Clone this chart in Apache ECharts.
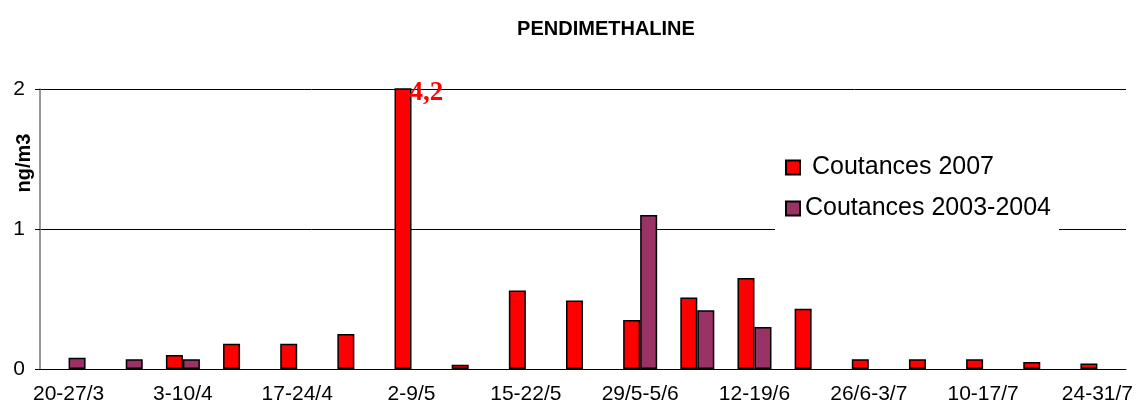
<!DOCTYPE html>
<html>
<head>
<meta charset="utf-8">
<script src="https://cdn.jsdelivr.net/npm/echarts@6/dist/echarts.min.js"></script>
<style>
  html, body { margin: 0; padding: 0; background: #fff; }
  #chart { width: 1138px; height: 408px; }
</style>
</head>
<body>
<div id="chart"></div>
<script>
// semaines de prélèvement
const weeks = [
  '20-27/3', '27/3-3/4', '3-10/4', '10-17/4', '17-24/4', '24/4-1/5', '2-9/5',
  '9-15/5', '15-22/5', '22-29/5', '29/5-5/6', '5-12/6', '12-19/6', '19-26/6',
  '26/6-3/7', '3-10/7', '10-17/7', '17-24/7', '24-31/7'
]
// concentrations ng/m3
const coutances2007 = [null, null, 0.10, 0.18, 0.18, 0.25, 4.2, 0.03, 0.56, 0.49,
  0.35, 0.51, 0.65, 0.43, 0.07, 0.07, 0.07, 0.05, 0.04]
const coutances2003 = [0.08, 0.07, 0.07, null, null, null, null, null, null, null,
  1.10, 0.42, 0.30, null, null, null, null, null, null]
const yTicks = [0, 1, 2]

const font = 'Liberation Sans, Arial, sans-serif'
const myChart = echarts.init(document.getElementById('chart'))

const options = {
  animation: false,
  backgroundColor: '#fff',
  title: {
    text: 'PENDIMETHALINE',
    left: 601,
    top: 14,
    textAlign: 'center',
    textStyle: { fontFamily: font, fontSize: 20, fontWeight: 'bold', color: '#000' }
  },
  graphic: [{
    type: 'text',
    x: 24,
    y: 163,
    rotation: Math.PI / 2,
    style: {
      text: 'ng/m3',
      font: 'bold 20px ' + font,
      fill: '#000',
      align: 'center',
      verticalAlign: 'middle'
    }
  }],
  legend: {
    orient: 'vertical',
    left: 775,
    top: 147,
    padding: [8, 8, 12, 10],
    itemGap: 16,
    itemWidth: 14,
    itemHeight: 14,
    backgroundColor: '#fff',
    formatter: name => name === 'Coutances 2007' ? ' ' + name : name,
    textStyle: { fontFamily: font, fontSize: 25, color: '#000' },
    data: [
      { name: 'Coutances 2007', icon: 'rect' },
      { name: 'Coutances 2003-2004', icon: 'rect' }
    ]
  },
  grid: { left: 40, right: 12, top: 89, bottom: 39 },
  xAxis: {
    type: 'category',
    data: weeks,
    axisLine: { lineStyle: { color: '#000', width: 1 } },
    axisTick: { interval: 0, length: 6, lineStyle: { color: '#555' } },
    axisLabel: {
      interval: 1,
      margin: 15,
      fontFamily: font,
      fontSize: 21,
      color: '#000'
    }
  },
  yAxis: {
    type: 'value',
    min: yTicks[0],
    max: yTicks[yTicks.length - 1],
    interval: 1,
    axisLine: { show: true, lineStyle: { color: '#777', width: 1.5 } },
    axisTick: { show: true, length: 5, lineStyle: { color: '#000' } },
    axisLabel: { margin: 15, fontFamily: font, fontSize: 21, color: '#000' },
    splitLine: { lineStyle: { color: '#000', width: 1 } }
  },
  series: [
    {
      name: 'Coutances 2007',
      type: 'bar',
      barWidth: 17,
      barGap: '0%',
      clip: true,
      itemStyle: { color: '#ff0000', borderColor: '#000', borderWidth: 1.5 },
      data: coutances2007.map((v, i) => i === 6 ? {
        value: v,
        label: {
          show: true,
          position: [15, -9],
          formatter: p => String(p.value).replace('.', ','),
          fontFamily: 'Liberation Serif, Times New Roman, serif',
          fontWeight: 'bold',
          fontSize: 27,
          color: '#ff0000'
        }
      } : v)
    },
    {
      name: 'Coutances 2003-2004',
      type: 'bar',
      barWidth: 17,
      barGap: '0%',
      itemStyle: { color: '#993366', borderColor: '#000', borderWidth: 1.5 },
      data: coutances2003
    }
  ]
}

myChart.setOption(options)
</script>
</body>
</html>
